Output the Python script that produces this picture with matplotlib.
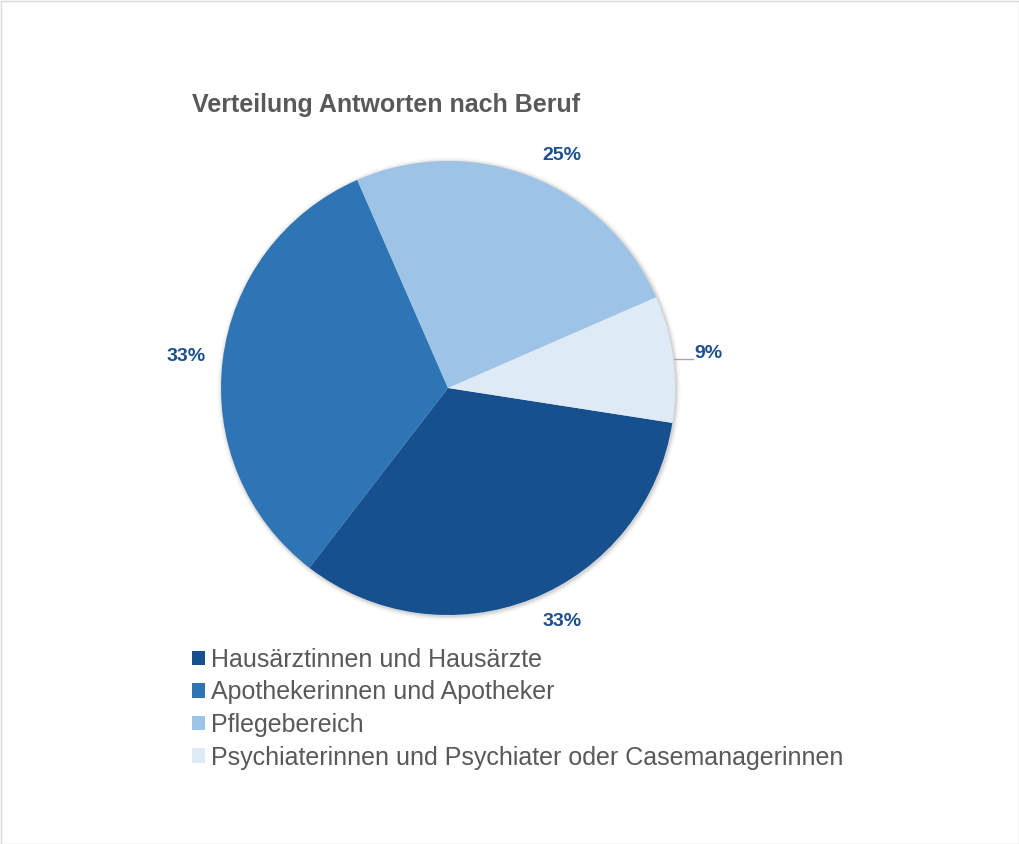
import matplotlib
matplotlib.use("Agg")
import matplotlib.pyplot as plt
from matplotlib.patches import Patch, Circle, Rectangle

plt.rcParams['font.family'] = ['Liberation Sans', 'DejaVu Sans']

categories = ["Hausärztinnen und Hausärzte",
              "Apothekerinnen und Apotheker",
              "Pflegebereich",
              "Psychiaterinnen und Psychiater oder Casemanagerinnen"]
values = [33, 33, 25, 9]
pct_labels = ["33%", "33%", "25%", "9%"]
colors = ["#17508F", "#2E75B6", "#9DC3E6", "#DEEBF7"]
title = "Verteilung Antworten nach Beruf"

W, H = 1020, 844
fig = plt.figure(figsize=(W / 100, H / 100), dpi=100)
ax = fig.add_axes([0, 0, 1, 1])
ax.set_xlim(0, W)
ax.set_ylim(0, H)
ax.set_aspect('equal')
ax.axis('off')

def py(y):
    return H - y

cx, cy, r = 448, py(388), 227

# soft shadow
for i, a in enumerate([0.06, 0.045, 0.03, 0.02, 0.012]):
    ax.add_patch(Circle((cx + 1, cy - 1), r + 1 + i, color='black', alpha=a, lw=0, zorder=0))

wedges, _ = ax.pie(values, colors=colors, startangle=-8.84, counterclock=False,
                   center=(cx, cy), radius=r, frame=True,
                   wedgeprops=dict(linewidth=0, edgecolor='none'))
ax.set_xlim(0, W)
ax.set_ylim(0, H)
ax.axis('off')

label_pos = [(562, 622), (186, 357), (562, 156), (708, 354)]
lab_color = "#1B4F8F"
for (x, y), t in zip(label_pos, pct_labels):
    ax.text(x, py(y), t, ha='center', va='center', fontsize=14,
            fontweight='bold', color=lab_color)
# leader line for 9%
ax.plot([674, 693], [py(359), py(359)], color='#A6A6A6', lw=1)

fig.text(192 / W, 1 - 112 / H, title, ha='left', va='baseline', fontsize=18,
         fontweight='bold', color='#595959')

handles = [Patch(facecolor=c, edgecolor='none') for c in colors]
leg = fig.legend(handles, categories, loc='upper left',
                 bbox_to_anchor=(192 / W, 1 - 648 / H), frameon=False,
                 fontsize=18, handlelength=0.52, handleheight=0.52,
                 handletextpad=0.24, labelspacing=0.34, borderaxespad=0,
                 borderpad=0)
for t in leg.get_texts():
    t.set_color('#595959')

fig.add_artist(Rectangle((0.5 / W, 0.5 / H), 1 - 1.5 / W, 1 - 1.5 / H,
                         transform=fig.transFigure, fill=False,
                         edgecolor='#D9D9D9', lw=1))

fig.savefig("out.png", dpi=100)
